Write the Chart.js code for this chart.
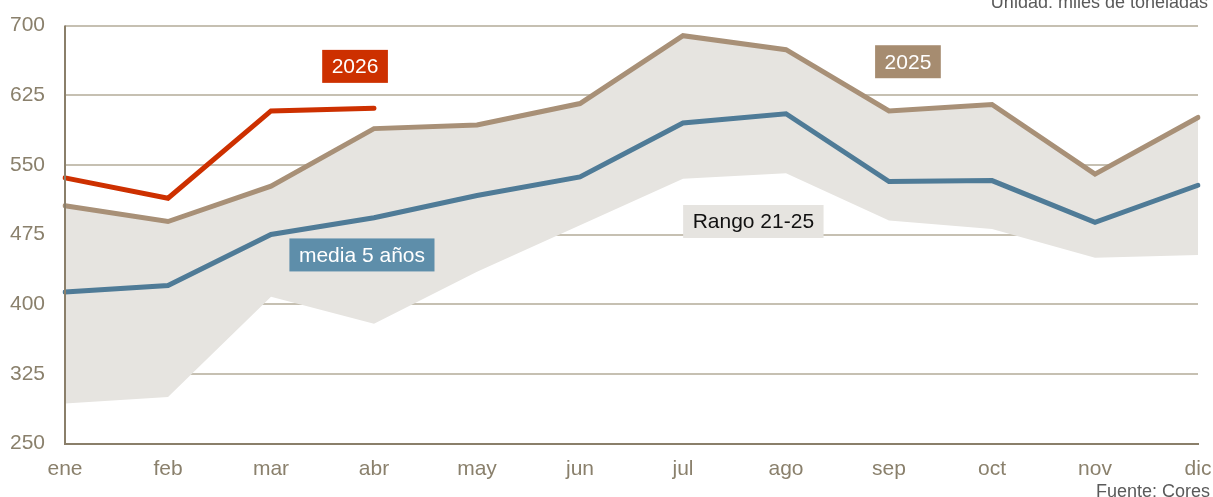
<!DOCTYPE html>
<html lang="es">

<head>
    <meta charset="UTF-8">
    <title>Consumo mensual</title>
    <style>
        html, body { margin: 0; padding: 0; background: #fff; }
        .wrap { width: 1213px; height: 497px; position: relative; }
    </style>
</head>

<body>
    <div class="wrap">
        <canvas id="canvas" width="1213" height="497"></canvas>
    </div>

    <script src="https://cdn.jsdelivr.net/npm/chart.js@4.4.1/dist/chart.umd.min.js"></script>
    <script>
        // datos (miles de toneladas)
        const meses = ['ene', 'feb', 'mar', 'abr', 'may', 'jun', 'jul', 'ago', 'sep', 'oct', 'nov', 'dic'];
        const serie2026 = [536, 514, 608, 611, null, null, null, null, null, null, null, null];
        const serie2025 = [506, 489, 527, 589, 593, 616, 689, 674, 608, 615, 540, 601];
        const media5 = [413, 420, 475, 493, 517, 537, 595, 605, 532, 533, 488, 528];
        const rangoMax = [506, 489, 527, 589, 593, 616, 689, 674, 608, 615, 540, 601];
        const rangoMin = [293, 300, 408, 379, 435, 485, 535, 541, 490, 481, 450, 453];
        const yTicks = [250, 325, 400, 475, 550, 625, 700];

        // etiquetas: texto, posicion en indice de mes y valor
        const etiquetas = [
            { text: '2026', x: 2.816, y: 656, bg: '#cd3000', color: '#ffffff' },
            { text: '2025', x: 8.184, y: 661, bg: '#a68c70', color: '#ffffff' },
            { text: 'media 5 años', x: 2.883, y: 453, bg: '#5e8eaa', color: '#ffffff' },
            { text: 'Rango 21-25', x: 6.683, y: 489, bg: '#e6e4e0', color: '#111111' }
        ];

        const FONT = '"Liberation Sans", Arial, sans-serif';
        const axisColor = '#8a7f6a';

        const extras = {
            id: 'extras',
            afterDatasetsDraw(chart) {
                const ctx = chart.ctx;
                const a = chart.chartArea;
                const xs = chart.scales.x, ys = chart.scales.y;
                // eje vertical encima del relleno
                ctx.save();
                ctx.strokeStyle = axisColor;
                ctx.lineWidth = 2;
                ctx.beginPath();
                ctx.moveTo(a.left, a.top);
                ctx.lineTo(a.left, a.bottom + 1);
                ctx.stroke();

                ctx.font = '21px ' + FONT;
                ctx.textAlign = 'center';
                ctx.textBaseline = 'middle';
                etiquetas.forEach(function (e) {
                    const cx = xs.getPixelForValue(e.x);
                    const cy = ys.getPixelForValue(e.y);
                    const w = ctx.measureText(e.text).width + 19;
                    const h = 33;
                    ctx.fillStyle = e.bg;
                    ctx.fillRect(cx - w / 2, cy - h / 2, w, h);
                    ctx.fillStyle = e.color;
                    ctx.fillText(e.text, cx, cy + 1);
                });

                ctx.font = '18px ' + FONT;
                ctx.fillStyle = '#5a5a5a';
                ctx.textAlign = 'right';
                ctx.textBaseline = 'alphabetic';
                ctx.fillText('Unidad: miles de toneladas', 1208, 8);
                ctx.fillText('Fuente: Cores', 1210, 497);
                ctx.restore();
            }
        };

        const ctx = document.getElementById('canvas').getContext('2d');
        const myChart = new Chart(ctx, {
            type: 'line',
            data: {
                labels: meses,
                datasets: [{
                    label: '2026',
                    data: serie2026,
                    borderColor: '#cd3000',
                    borderWidth: 5,
                    borderCapStyle: 'round',
                    order: 0
                }, {
                    label: '2025',
                    data: serie2025,
                    borderColor: '#a89077',
                    borderWidth: 5,
                    borderCapStyle: 'round',
                    order: 1
                }, {
                    label: 'media 5 años',
                    data: media5,
                    borderColor: '#4f7b97',
                    borderWidth: 5,
                    borderCapStyle: 'round',
                    order: 2
                }, {
                    label: 'max',
                    data: rangoMax,
                    borderWidth: 0,
                    borderColor: 'transparent',
                    backgroundColor: '#e6e4e0',
                    fill: '+1',
                    order: 3
                }, {
                    label: 'min',
                    data: rangoMin,
                    borderWidth: 0,
                    borderColor: 'transparent',
                    fill: false,
                    order: 4
                }]
            },
            options: {
                responsive: false,
                animation: false,
                devicePixelRatio: 1,
                layout: { padding: { left: 0, right: 15, top: 25.5, bottom: 2.3 } },
                elements: {
                    line: { tension: 0 },
                    point: { radius: 0 }
                },
                plugins: {
                    legend: { display: false },
                    tooltip: { enabled: false }
                },
                scales: {
                    x: {
                        offset: false,
                        afterFit: function (s) { s.paddingLeft = 0; s.paddingRight = 0; },
                        grid: { display: false, drawTicks: false },
                        border: { display: true, color: axisColor, width: 2 },
                        ticks: {
                            color: '#8a806c',
                            font: { family: FONT, size: 21 },
                            padding: 13,
                            maxRotation: 0,
                            autoSkip: false
                        }
                    },
                    y: {
                        min: 250,
                        max: 700,
                        afterFit: function (s) { s.width = 65; s.paddingTop = 0; s.paddingBottom = 0; },
                        afterBuildTicks: function (s) { s.ticks = yTicks.map(v => ({ value: v })); },
                        grid: { color: '#c6c0b2', lineWidth: 2, drawTicks: false },
                        border: { display: false },
                        ticks: {
                            color: '#8a806c',
                            font: { family: FONT, size: 21 },
                            padding: 20
                        }
                    }
                }
            },
            plugins: [extras]
        });
    </script>
</body>

</html>
